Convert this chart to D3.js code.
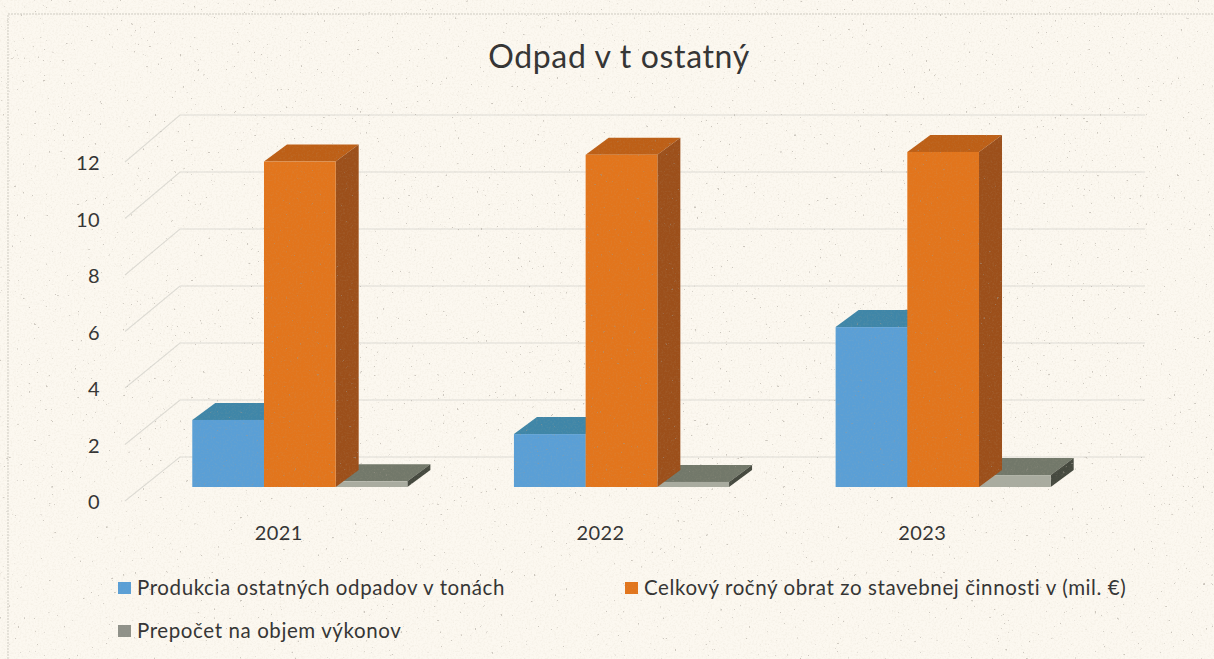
<!DOCTYPE html>
<html><head><meta charset="utf-8">
<script src="https://cdn.jsdelivr.net/npm/d3@7/dist/d3.min.js"></script>
<style>html,body{margin:0;padding:0;background:#fbf7ef}svg{display:block}text{font-family:Lato,"Open Sans",sans-serif;fill:#333}</style>
</head><body><svg id="c" width="1214" height="659"></svg>
<script>
const title = "Odpad v t ostatný";
const categories = ["2021","2022","2023"];
const seriesNames = ["Produkcia ostatných odpadov v tonách","Celkový ročný obrat zo stavebnej činnosti v (mil. €)","Prepočet na objem výkonov"];
const produkcia = [2.37,1.87,5.65];
const obrat = [11.5,11.74,11.84];
const prepocet = [0.2,0.18,0.42];
const yTicks = [0,2,4,6,8,10,12];
const faceColors = ["#5a9fd6","#e2751c","#a9aca0"];
const topColors = ["#3f86a8","#bd5f16","#72786a"];
const sideColors = ["#35708f","#9c4f1a","#45493f"];

const svg = d3.select("#c");
const defs = svg.append("defs");
const f = defs.append("filter").attr("id","grain").attr("x",0).attr("y",0).attr("width","100%").attr("height","100%");
f.append("feTurbulence").attr("type","fractalNoise").attr("baseFrequency",0.55).attr("numOctaves",3).attr("seed",4);
f.append("feColorMatrix").attr("values","0 0 0 0 0.50  0 0 0 0 0.44  0 0 0 0 0.32  0 0 0 -1.1 0.62");
const s = defs.append("filter").attr("id","specks").attr("x",0).attr("y",0).attr("width","100%").attr("height","100%");
s.append("feTurbulence").attr("type","fractalNoise").attr("baseFrequency",0.35).attr("numOctaves",2).attr("seed",11);
s.append("feColorMatrix").attr("values","0 0 0 0 0.35  0 0 0 0 0.32  0 0 0 0 0.28  0 0 0 14 -10.6");
svg.append("rect").attr("width",1214).attr("height",659).attr("fill","#fcf8f0");

// outer frame of the scanned chart
svg.append("path").attr("d","M8,659V14H1214").attr("fill","none").attr("stroke","#cfccc3").attr("stroke-width",1).attr("stroke-dasharray","2 1");

const yFront = d3.scaleLinear().domain([0,12]).range([501,162]);
const yBack = d3.scaleLinear().domain([0,12]).range([457,115]);
const xLeftFront = 125, xLeftBack = 180, xRightBack = 1145;
const grid = svg.append("g").attr("stroke","#dedcd5").attr("stroke-width",1.1).attr("fill","none");
yTicks.forEach(t=>{
  grid.append("path").attr("d",`M${xLeftFront},${yFront(t)}L${xLeftBack},${yBack(t)}H${xRightBack}`);
});
svg.append("g").selectAll("text").data(yTicks).join("text")
  .attr("x",100).attr("y",d=>yFront(d)+3).attr("text-anchor","end").attr("dominant-baseline","middle")
  .attr("font-size",20).attr("letter-spacing",0.4).text(d=>d);

const x0 = d3.scaleBand().domain(categories).range([139,1104]);
const barW = 71.7;
const x1 = d3.scaleBand().domain(d3.range(3)).range([0,barW*3]);
const yBar = d3.scaleLinear().domain([0,12]).range([487,147.4]);
const dx = 23, dy = 17;
const series = [produkcia,obrat,prepocet];
const drawOrder = [0,2,1];
const bars = svg.append("g");
categories.forEach((c,ci)=>{
  const left = x0(c) + (x0.bandwidth()-barW*3)/2;
  drawOrder.forEach(si=>{
    const v = series[si][ci];
    const xa = left + x1(si), xb = xa + x1.bandwidth();
    const yt = yBar(v), yb = yBar(0);
    const g = bars.append("g");
    g.append("path").attr("fill",topColors[si])
      .attr("d",`M${xa},${yt}L${xa+dx},${yt-dy}H${xb+dx}L${xb},${yt}Z`);
    g.append("path").attr("fill",sideColors[si])
      .attr("d",`M${xb},${yt}L${xb+dx},${yt-dy}V${yb-dy}L${xb},${yb}Z`);
    g.append("rect").attr("x",xa).attr("y",yt).attr("width",x1.bandwidth()).attr("height",yb-yt).attr("fill",faceColors[si]);
  });
});

svg.append("g").selectAll("text").data(categories).join("text")
  .attr("x",d=>x0(d)+x0.bandwidth()/2-21).attr("y",535).attr("text-anchor","middle").attr("dominant-baseline","middle")
  .attr("font-size",20).attr("letter-spacing",0.4).text(d=>d);

svg.append("text").attr("x",619).attr("y",60).attr("text-anchor","middle").attr("dominant-baseline","middle")
  .attr("font-size",32).attr("letter-spacing",0.65).text(title);

const legendPos = [[118,590],[625,590],[118,633]];
const lg = svg.append("g").selectAll("g").data(seriesNames).join("g")
  .attr("transform",(d,i)=>`translate(${legendPos[i][0]},${legendPos[i][1]})`);
lg.append("rect").attr("x",0).attr("y",-8).attr("width",13).attr("height",12).attr("fill",(d,i)=>i===2?"#8f9189":faceColors[i]);
lg.append("text").attr("x",19).attr("y",0).attr("dominant-baseline","middle").attr("font-size",20.5).attr("letter-spacing",0.6).text(d=>d);

// paper grain and specks over the whole scan
svg.append("rect").attr("width",1214).attr("height",659).attr("filter","url(#grain)").attr("opacity",0.25).style("pointer-events","none");
svg.append("rect").attr("width",1214).attr("height",659).attr("filter","url(#specks)").attr("opacity",0.5).style("pointer-events","none");
</script></body></html>
